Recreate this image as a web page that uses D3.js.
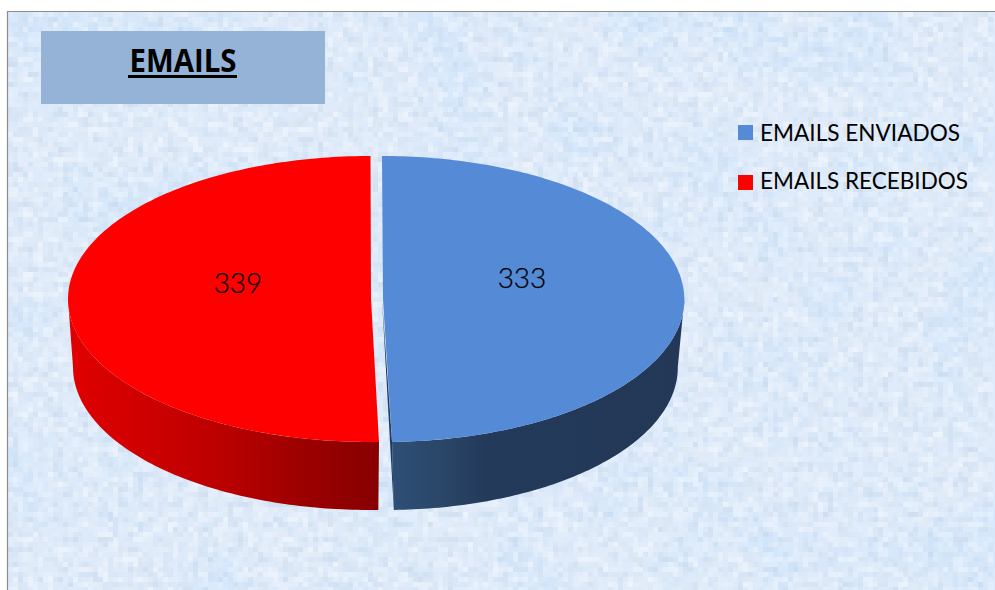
<!DOCTYPE html>
<html><head><meta charset="utf-8">
<script src="https://cdn.jsdelivr.net/npm/d3@7"></script>
<style>html,body{margin:0;padding:0;background:#fff}svg{display:block}</style>
</head><body><div id="c"></div>
<script>
const categories = ["EMAILS ENVIADOS", "EMAILS RECEBIDOS"];
const values = [333, 339];
const titleText = "EMAILS";
const faceColors = ["#558ad6", "#ff0000"];

const W = 995, H = 590;
const svg = d3.select("#c").append("svg").attr("width", W).attr("height", H);
const defs = svg.append("defs");

// blocky paper texture: noise sampled on a coarse grid, then dilated into cells
function texture(id, freq, seed, matrix){
  const f = defs.append("filter").attr("id",id).attr("filterUnits","userSpaceOnUse")
    .attr("x",8).attr("y",12).attr("width",W-8).attr("height",H-12)
    .attr("primitiveUnits","userSpaceOnUse")
    .attr("color-interpolation-filters","sRGB");
  f.append("feTurbulence").attr("type","fractalNoise").attr("baseFrequency",freq).attr("numOctaves",3).attr("seed",seed);
  f.append("feColorMatrix").attr("type","matrix").attr("values",matrix).attr("result","n");
  f.append("feFlood").attr("x",10).attr("y",14).attr("width",1).attr("height",1).attr("flood-color","#000").attr("result","dot");
  f.append("feOffset").attr("in","dot").attr("dx",0).attr("dy",0).attr("x",8).attr("y",12).attr("width",5).attr("height",5);
  f.append("feTile").attr("x",8).attr("y",12).attr("width",W-8).attr("height",H-12).attr("result","grid");
  f.append("feComposite").attr("in","n").attr("in2","grid").attr("operator","in");
  f.append("feMorphology").attr("operator","dilate").attr("radius",2);
}
texture("texW","0.09","7","0 0 0 0 1  0 0 0 0 1  0 0 0 0 1  3.2 0 0 0 -1.25");
texture("texD","0.11","23","0 0 0 0 .66  0 0 0 0 .76  0 0 0 0 .86  3.0 0 0 0 -1.25");
const f3 = defs.append("filter").attr("id","texL").attr("filterUnits","userSpaceOnUse")
  .attr("x",8).attr("y",12).attr("width",W-8).attr("height",H-12).attr("color-interpolation-filters","sRGB");
f3.append("feTurbulence").attr("type","fractalNoise").attr("baseFrequency","0.012").attr("numOctaves",2).attr("seed",5);
f3.append("feColorMatrix").attr("type","matrix").attr("values","0 0 0 0 .76  0 0 0 0 .88  0 0 0 0 1  3 0 0 0 -1.3");

const bg = [[null,"#dfebfa",1],["texL",null,.35],["texW",null,.4],["texD",null,.25]];
bg.forEach(b=>{
  const r = svg.append("rect").attr("x",8).attr("y",12).attr("width",W-8).attr("height",H-12);
  if(b[0]) r.attr("filter",`url(#${b[0]})`).attr("opacity",b[2]); else r.attr("fill",b[1]);
});
svg.append("path").attr("d",`M7.5 ${H} V11.5 H${W}`).attr("fill","none").attr("stroke","#8c8c8c").attr("stroke-width",1.2);

// title box
svg.append("rect").attr("x",41).attr("y",31).attr("width",284).attr("height",73).attr("fill","#95b3d7");
svg.append("text").attr("x",183).attr("y",72).attr("text-anchor","middle")
  .attr("font-family","'Open Sans',Lato,sans-serif").attr("font-weight",700).attr("font-size",32)
  .attr("textLength",107).attr("lengthAdjust","spacingAndGlyphs")
  .attr("fill","#000").text(titleText);
svg.append("rect").attr("x",128).attr("y",75).attr("width",109).attr("height",3).attr("fill","#000");

// pie
const pie = d3.pie().sort(null).value(d=>d);
const arcs = pie(values);
const cy = 299, ry = 143, depth = 68;
const geo = [
  {cx:382, rx:301.5, bcx:384, brx:293, ax:383, skew:1.6},
  {cx:370.5, rx:302.5, bcx:370, brx:297, ax:371, skew:0}
];
const px = (g,a,bot)=> (bot? g.bcx + g.brx*Math.sin(a) : g.cx + g.rx*Math.sin(a)) + g.skew*(1-Math.cos(a))/2;
const py = (a,bot)=> cy + (bot?depth:0) - ry*Math.cos(a);
const samples = (a0,a1,n=90)=> d3.range(n+1).map(i=>a0+(a1-a0)*i/n);
const line = d3.line();

const gB = defs.append("linearGradient").attr("id","sideB").attr("gradientUnits","userSpaceOnUse")
  .attr("x1",392).attr("x2",684).attr("y1",0).attr("y2",0);
[[0,"#2e4f76"],[.17,"#2a4668"],[.32,"#243a5a"],[1,"#233857"]].forEach(s=>gB.append("stop").attr("offset",s[0]).attr("stop-color",s[1]));
const gR = defs.append("linearGradient").attr("id","sideR").attr("gradientUnits","userSpaceOnUse")
  .attr("x1",70).attr("x2",380).attr("y1",0).attr("y2",0);
[[0,"#e00000"],[.27,"#cc0000"],[.52,"#b80000"],[.75,"#9c0000"],[1,"#870000"]].forEach(s=>gR.append("stop").attr("offset",s[0]).attr("stop-color",s[1]));

// blue side
{
  const g = geo[0], a = arcs[0];
  const as = samples(Math.PI/2, a.endAngle);
  const pts = as.map(t=>[px(g,t,false),py(t,false)]).concat(as.slice().reverse().map(t=>[px(g,t,true),py(t,true)]));
  svg.append("path").attr("d",line(pts)+"Z").attr("fill","url(#sideB)");
  const rimT=[px(g,a.endAngle,false),py(a.endAngle,false)], rimB=[px(g,a.endAngle,true),py(a.endAngle,true)];
  svg.append("path").attr("d",line([[g.ax-1,cy],rimB,rimT])+"Z").attr("fill","#1f3a5f");
}
// red side
{
  const g = geo[1], a = arcs[1];
  const as = samples(a.startAngle, 1.5*Math.PI);
  const pts = as.map(t=>[px(g,t,false),py(t,false)]).concat(as.slice().reverse().map(t=>[px(g,t,true),py(t,true)]));
  svg.append("path").attr("d",line(pts)+"Z").attr("fill","url(#sideR)");
}
// top faces
arcs.forEach((a,i)=>{
  const g = geo[i];
  const pts = samples(a.startAngle,a.endAngle,180).map(t=>[px(g,t,false),py(t,false)]);
  pts.push([g.ax,cy]);
  svg.append("path").attr("d",line(pts)+"Z").attr("fill",faceColors[i]);
});
// value labels
const labelX = d3.scaleOrdinal().domain(categories).range([522,238]);
const labelY = d3.scaleOrdinal().domain(categories).range([288,293]);
svg.selectAll("text.v").data(values).join("text").attr("class","v")
  .attr("x",(d,i)=>labelX(categories[i])).attr("y",(d,i)=>labelY(categories[i]))
  .attr("text-anchor","middle").attr("font-family","Lato,'Open Sans',sans-serif").attr("font-weight",300)
  .attr("font-size",28).attr("fill","#000").attr("stroke","#000").attr("stroke-width",.25).text(d=>d);

// legend
const swatchY = d3.scalePoint().domain(categories).range([125,175]);
const textY = d3.scalePoint().domain(categories).range([141,189]);
categories.forEach((c,i)=>{
  svg.append("rect").attr("x",738).attr("y",swatchY(c)).attr("width",15).attr("height",15).attr("fill",faceColors[i]);
  svg.append("text").attr("x",760).attr("y",textY(c)).attr("font-family","Lato,'Open Sans',sans-serif")
    .attr("font-size",23).attr("fill","#000").attr("textLength",i?208:200).attr("lengthAdjust","spacingAndGlyphs").text(c);
});
</script></body></html>
